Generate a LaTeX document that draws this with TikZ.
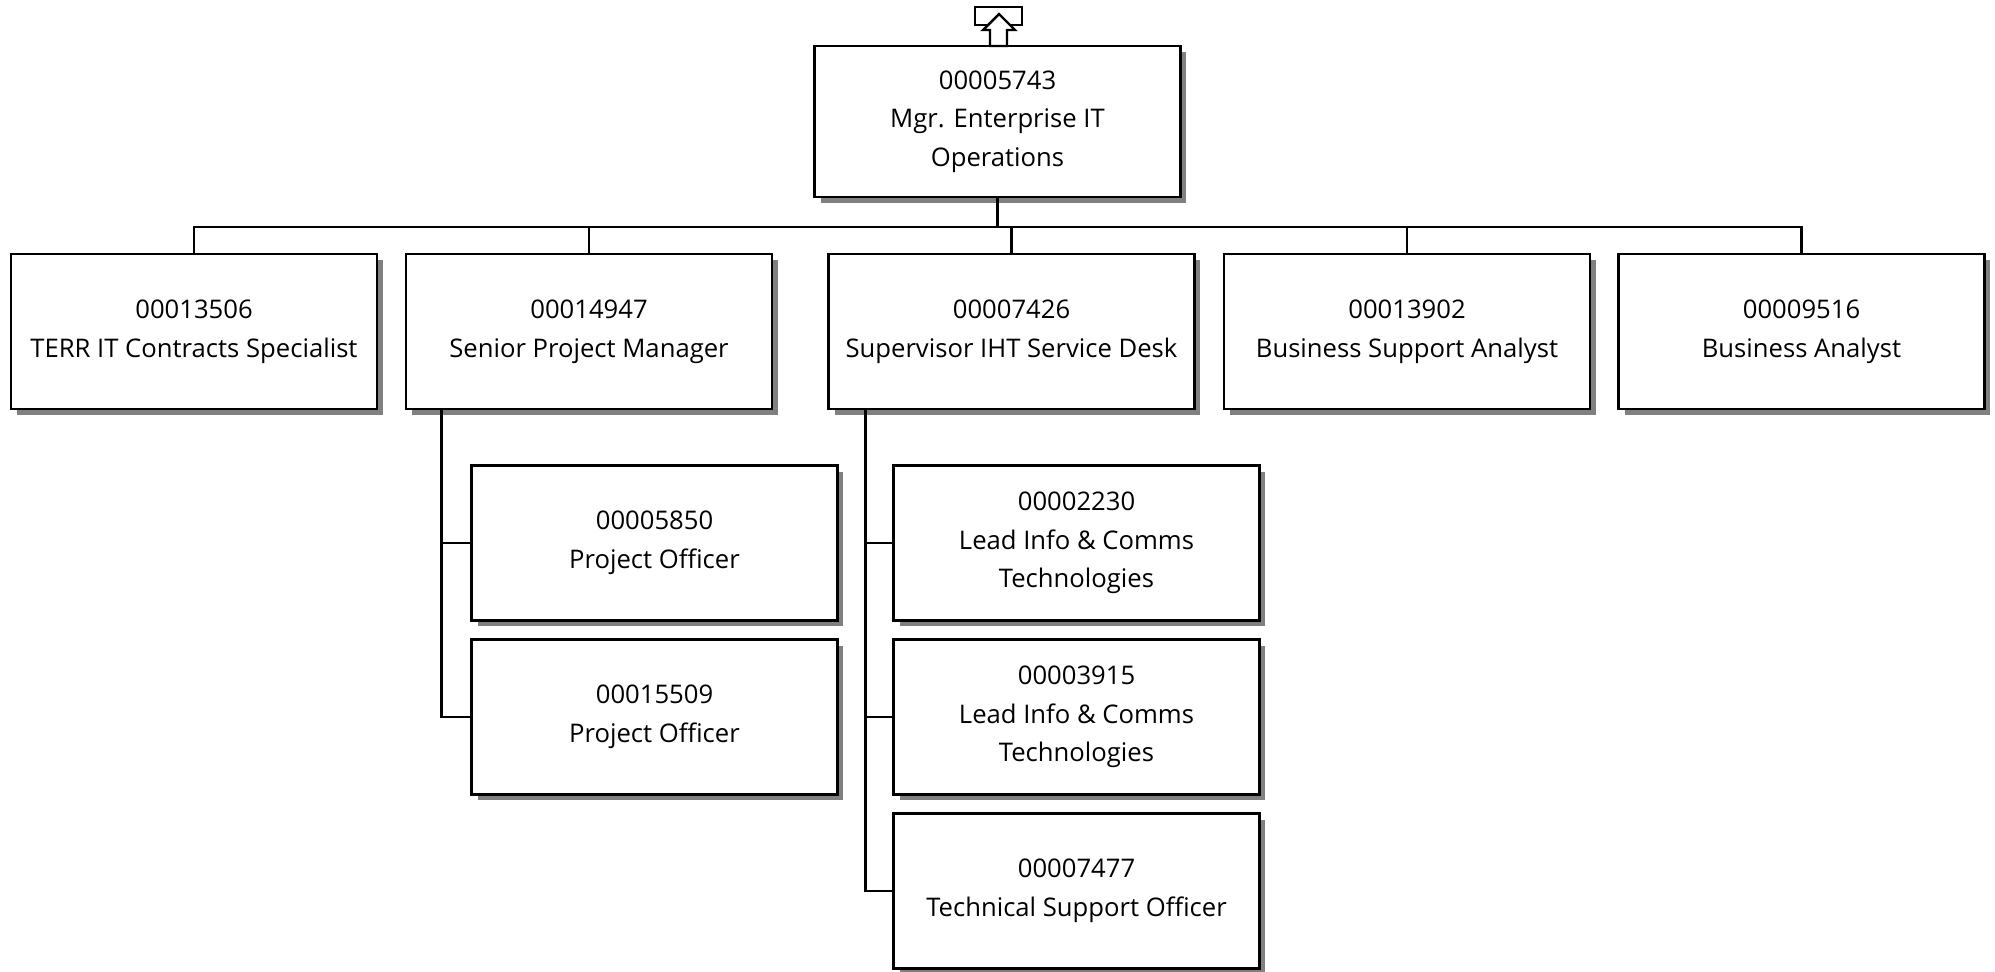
\documentclass[tikz,border=0pt]{standalone}
\usepackage{fontspec}
\setmainfont{Open Sans}
\usetikzlibrary{shadows}
\begin{document}
\begin{tikzpicture}[x=0.02cm, y=-0.02cm, line width=1.6pt,
  every node/.style={font=\fontsize{14.6}{22}\selectfont},
  post/.style={draw,fill=white,minimum width=7.32cm,minimum height=3.1cm,align=center,inner sep=0pt,
    drop shadow={shadow xshift=0.12cm,shadow yshift=-0.12cm,fill=black!50,opacity=1}}]
\useasboundingbox (0,0) rectangle (1995,971);
% head of the unit
\node[post,minimum height=3.02cm] (mgr) at (997.5,121.5) {00005743\\Mgr. Enterprise IT\\Operations};
\draw[fill=white] (975,7) rectangle (1022,25);
\draw[fill=white,line width=1.4pt] (999,14) -- (1015,30) -- (1007,30) -- (1007,46) -- (990,46) -- (990,30) -- (983,30) -- cycle;
% first row
\node[post] (terr) at (194,331.5) {00013506\\TERR IT Contracts Specialist};
\node[post] (spm) at (589,331.5) {00014947\\Senior Project Manager};
\node[post] (sup) at (1011.5,331.5) {00007426\\Supervisor IHT Service Desk};
\node[post] (bsa) at (1407,331.5) {00013902\\Business Support Analyst};
\node[post] (ba) at (1801.5,331.5) {00009516\\Business Analyst};
% under the project manager
\node[post] (po1) at (654.5,543) {00005850\\Project Officer};
\node[post] (po2) at (654.5,717) {00015509\\Project Officer};
% under the service desk
\node[post] (lict1) at (1076.5,543) {00002230\\Lead Info \& Comms\\Technologies};
\node[post] (lict2) at (1076.5,717) {00003915\\Lead Info \& Comms\\Technologies};
\node[post] (tso) at (1076.5,891) {00007477\\Technical Support Officer};
% lines
\coordinate (bar) at (0,227);
\draw (mgr.south) -- (mgr.south |- bar);
\draw (terr.north) |- (bar -| ba.north) -- (ba.north);
\draw (spm.north) -- (spm.north |- bar);
\draw (sup.north) -- (sup.north |- bar);
\draw (bsa.north) -- (bsa.north |- bar);
\draw ([xshift=0.74cm]spm.south west) |- (po1.west);
\draw ([xshift=0.74cm]spm.south west) |- (po2.west);
\draw ([xshift=0.76cm]sup.south west) |- (lict1.west);
\draw ([xshift=0.76cm]sup.south west) |- (lict2.west);
\draw ([xshift=0.76cm]sup.south west) |- (tso.west);
\end{tikzpicture}
\end{document}
